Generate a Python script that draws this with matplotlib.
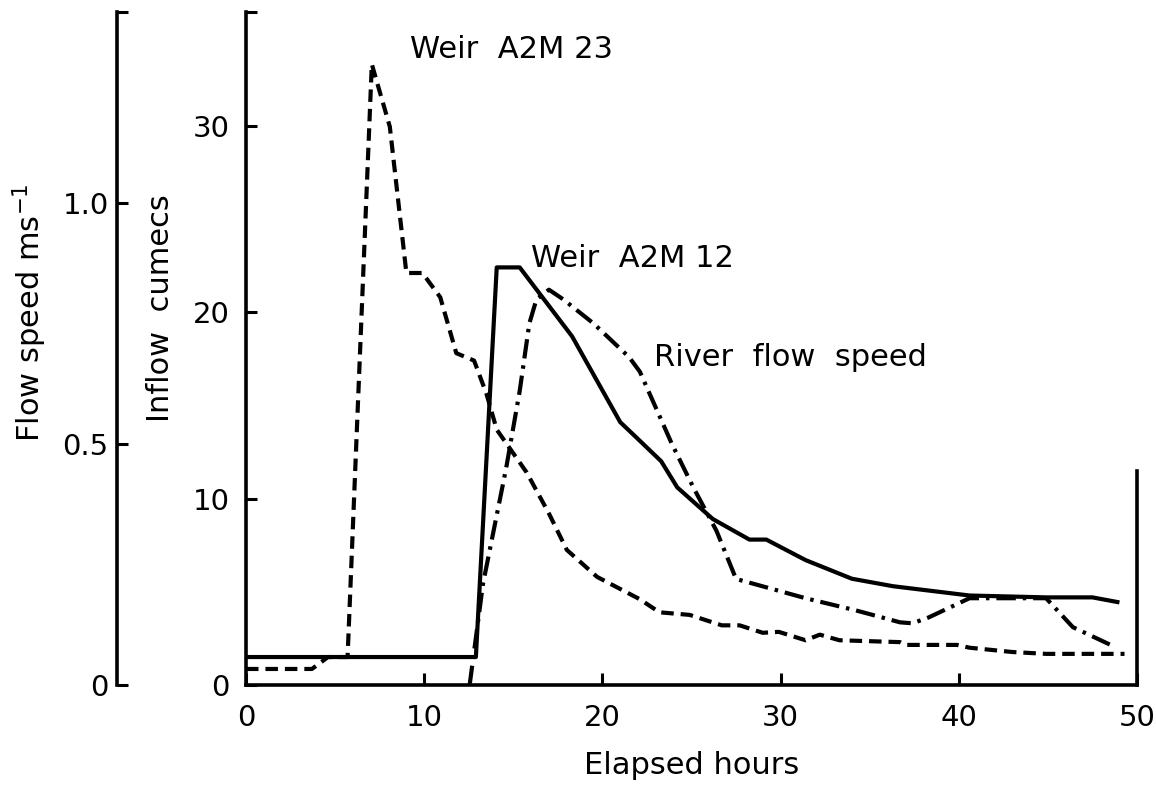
import matplotlib
matplotlib.use('Agg')
import matplotlib.pyplot as plt

plt.rcParams['font.family'] = 'DejaVu Sans'
plt.rcParams['lines.scale_dashes'] = False

# Weir A2M 23 inflow (cumecs)
weir23_hours = [0, 3.7, 4.6, 5.7, 7.06, 8.07, 9.0, 9.9, 10.9, 11.8, 12.8, 13.5, 14.07,
                15.75, 17.0, 18.0, 19.7, 22.1, 23.2, 24.9, 26.7, 27.7, 29.0, 29.9,
                31.4, 32.2, 33.3, 36.7, 37.0, 39.9, 40.6, 43.0, 44.9, 49.3]
weir23_inflow = [0.86, 0.86, 1.5, 1.5, 33.3, 29.95, 22.1, 22.1, 20.8, 17.8, 17.4, 15.6, 13.7,
                 11.4, 9.2, 7.25, 5.8, 4.6, 3.9, 3.76, 3.2, 3.2, 2.8, 2.85,
                 2.4, 2.7, 2.4, 2.3, 2.15, 2.15, 2.0, 1.77, 1.67, 1.67]

# Weir A2M 12 inflow (cumecs)
weir12_hours = [0, 12.9, 14.07, 15.36, 18.3, 21.0, 22.1, 23.3, 24.2, 26.2, 28.25, 29.2,
                31.4, 34.0, 36.3, 40.6, 44.9, 47.5, 48.9]
weir12_inflow = [1.5, 1.5, 22.4, 22.4, 18.7, 14.1, 13.1, 12.0, 10.6, 8.9, 7.8, 7.8,
                 6.7, 5.7, 5.3, 4.8, 4.7, 4.7, 4.45]

# river flow speed (m/s)
river_hours = [12.55, 13.3, 13.95, 14.6, 15.36, 15.9, 16.3, 17.0, 17.8, 19.5, 21.5, 22.1,
               23.9, 25.1, 26.4, 27.5, 31.4, 34.2, 36.7, 37.4, 38.3, 40.6, 44.9, 46.4, 48.7]
river_speed = [0.0, 0.21, 0.33, 0.45, 0.61, 0.75, 0.80, 0.82, 0.80, 0.75, 0.68, 0.65,
               0.50, 0.41, 0.32, 0.22, 0.18, 0.155, 0.13, 0.128, 0.14, 0.18, 0.18, 0.12, 0.08]

hour_ticks = [0, 10, 20, 30, 40, 50]
inflow_ticks = [0, 10, 20, 30]
speed_ticks = [0, 0.5, 1.0]
speed_labels = ['0', '0.5', '1.0']

fig = plt.figure(figsize=(11.56, 7.85), dpi=100)
ax = fig.add_axes([246 / 1156, 1 - 685 / 785, 891 / 1156, 673 / 785])

ax.plot(weir23_hours, weir23_inflow, color='black', lw=3, dashes=(9, 5))
ax.plot(weir12_hours, weir12_inflow, color='black', lw=3, solid_joinstyle='round')

ax.set_xlim(0, 50)
ax.set_ylim(0, 36.1)
ax.set_xticks(hour_ticks)
ax.set_yticks(inflow_ticks)
ax.set_yticks([36.1], minor=True)
ax.tick_params(axis='both', which='both', direction='in', width=2.2, labelsize=21)
ax.tick_params(axis='x', length=9, pad=14)
ax.tick_params(axis='y', length=8, pad=12)
ax.tick_params(axis='y', which='minor', length=8, labelleft=False)
ax.spines['top'].set_visible(False)
ax.spines['right'].set_bounds(0, 11.5)
for s in ['left', 'bottom', 'right']:
    ax.spines[s].set_linewidth(2.6)

ax.set_xlabel('Elapsed hours', fontsize=22)
ax.xaxis.set_label_coords(0.5, -0.119)
ax.xaxis.label.set_va('center')
ax.set_ylabel('Inflow  cumecs', fontsize=22)
ax.yaxis.set_label_coords(-0.0965, 0.56)
ax.yaxis.label.set_va('center')

# flow speed axis, pushed out to the left
ax2 = ax.twinx()
ax2.plot(river_hours, river_speed, color='black', lw=3, dashes=(14, 5, 2.5, 5))
ax2.set_ylim(0, 1.396)
ax2.yaxis.tick_left()
ax2.yaxis.set_label_position('left')
ax2.spines['left'].set_position(('outward', 92.9))
ax2.spines['left'].set_linewidth(2.6)
for s in ['top', 'right', 'bottom']:
    ax2.spines[s].set_visible(False)
ax2.set_yticks(speed_ticks)
ax2.set_yticklabels(speed_labels)
ax2.set_yticks([1.396], minor=True)
ax2.tick_params(axis='y', which='both', direction='in', length=8, width=2.2,
                labelsize=21, pad=6)
ax2.tick_params(axis='y', which='minor', labelleft=False)
ax2.set_ylabel('Flow speed ms$^{-1}$', fontsize=22)
ax2.yaxis.set_label_coords(-0.2424, 0.553)
ax2.yaxis.label.set_va('center')

ax.text(9.2, 34.1, 'Weir  A2M 23', fontsize=22, va='center')
ax.text(16.0, 22.9, 'Weir  A2M 12', fontsize=22, va='center')
ax.text(22.9, 17.55, 'River  flow  speed', fontsize=22, va='center')

fig.savefig('out.png', dpi=100)
